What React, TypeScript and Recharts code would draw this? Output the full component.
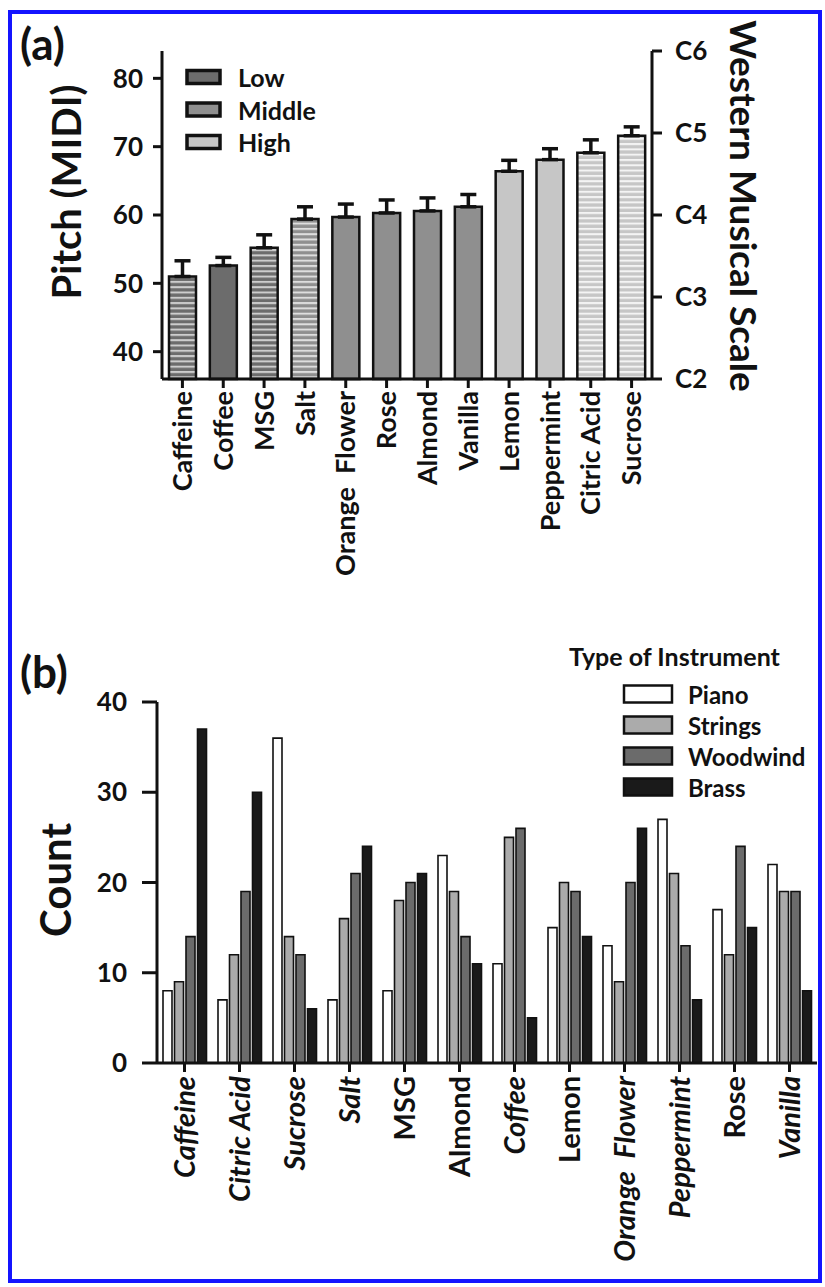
import React from 'react';
import { ComposedChart, BarChart, Bar, Line, XAxis, YAxis, ErrorBar, Cell } from 'recharts';

const FONT = 'Lato, "Open Sans", sans-serif';
const INK = '#111111';

// ---- panel (a): mean pitch per stimulus ----
const stimuliA = ['Caffeine', 'Coffee', 'MSG', 'Salt', 'Orange  Flower', 'Rose', 'Almond', 'Vanilla', 'Lemon', 'Peppermint', 'Citric Acid', 'Sucrose'];
const pitchMean = [51.0, 52.6, 55.2, 59.4, 59.7, 60.3, 60.6, 61.2, 66.4, 68.1, 69.1, 71.6];
const pitchTop = [53.3, 53.8, 57.1, 61.2, 61.6, 62.2, 62.5, 63.0, 68.0, 69.7, 71.0, 72.9];
const pitchGroup = ['Low', 'Low', 'Low', 'Middle', 'Middle', 'Middle', 'Middle', 'Middle', 'High', 'High', 'High', 'High'];
const tasteStimulus = [true, false, true, true, false, false, false, false, false, false, true, true];
const pitchTicks = [40, 50, 60, 70, 80];
const noteTicks = [36, 48, 60, 72, 84];
const noteLabels = ['C2', 'C3', 'C4', 'C5', 'C6'];
const groupNames = ['Low', 'Middle', 'High'];

// ---- panel (b): instrument counts ----
const stimuliB = ['Caffeine', 'Citric Acid', 'Sucrose', 'Salt', 'MSG', 'Almond', 'Coffee', 'Lemon', 'Orange  Flower', 'Peppermint', 'Rose', 'Vanilla'];
const italicB = [true, true, true, true, false, false, true, false, true, true, false, true];
const pianoCounts = [8, 7, 36, 7, 8, 23, 11, 15, 13, 27, 17, 22];
const stringsCounts = [9, 12, 14, 16, 18, 19, 25, 20, 9, 21, 12, 19];
const woodwindCounts = [14, 19, 12, 21, 20, 14, 26, 19, 20, 13, 24, 19];
const brassCounts = [37, 30, 6, 24, 21, 11, 5, 14, 26, 7, 15, 8];
const countTicks = [0, 10, 20, 30, 40];
const instruments = ['Piano', 'Strings', 'Woodwind', 'Brass'];

const groupColor: Record<string, string> = { Low: '#6c6c6c', Middle: '#8f8f8f', High: '#c6c6c6' };
const stripeColor: Record<string, string> = { Low: '#cdcdcd', Middle: '#dedede', High: '#f4f4f4' };
const instrumentColor: Record<string, string> = { Piano: '#ffffff', Strings: '#ababab', Woodwind: '#6b6b6b', Brass: '#1a1a1a' };

const dataA = stimuliA.map((name, i) => ({
  name,
  pitch: pitchMean[i],
  err: [0, +(pitchTop[i] - pitchMean[i]).toFixed(2)],
}));

const dataB = stimuliB.map((name, i) => ({
  name,
  Piano: pianoCounts[i],
  Strings: stringsCounts[i],
  Woodwind: woodwindCounts[i],
  Brass: brassCounts[i],
}));

const RotatedTick = (props: any) => {
  const { x, y, payload, italicFor, size } = props;
  const idx = italicFor ? stimuliB.indexOf(payload.value) : -1;
  const italic = italicFor && idx >= 0 && italicB[idx];
  return (
    <g transform={`translate(${x},${y})`}>
      <text
        transform="rotate(-90)"
        textAnchor="end"
        dy="0.36em"
        fill={INK}
        fontFamily={FONT}
        fontWeight={700}
        fontSize={size}
        fontStyle={italic ? 'italic' : 'normal'}
        style={{ whiteSpace: 'pre' }}
      >
        {payload.value}
      </text>
    </g>
  );
};

const axisLine = { stroke: INK, strokeWidth: 3 };
const tickText = { fill: INK, fontSize: 26, fontWeight: 700, fontFamily: FONT };

const App: React.FC = () => {
  return (
    <div style={{ position: 'absolute', left: 0, top: 0, width: 825, height: 1287, background: '#fff', fontFamily: FONT }}>
      <div style={{ position: 'absolute', left: 8, top: 10, width: 814, height: 1273, border: '4px solid #1414ff', boxSizing: 'border-box' }} />

      {/* panel (a) */}
      <div style={{ position: 'absolute', left: 0, top: 0 }}>
        <ComposedChart width={825} height={620} data={dataA} margin={{ top: 51, right: 0, left: 0, bottom: 0 }}>
          <defs>
            {groupNames.map((g) => (
              <pattern key={g} id={`hatch-${g}`} width="8" height="5.3" patternUnits="userSpaceOnUse">
                <rect width="8" height="5.3" fill={groupColor[g]} />
                <rect width="8" height="2" fill={stripeColor[g]} />
              </pattern>
            ))}
          </defs>
          <XAxis
            dataKey="name"
            height={241}
            interval={0}
            tickSize={9}
            tickMargin={3}
            axisLine={axisLine}
            tickLine={axisLine}
            tick={<RotatedTick size={27} />}
          />
          <YAxis
            yAxisId="left"
            width={162}
            domain={[36, 84]}
            ticks={pitchTicks}
            tickSize={9}
            tickMargin={10}
            axisLine={axisLine}
            tickLine={axisLine}
            tick={tickText}
          />
          <YAxis
            yAxisId="right"
            orientation="right"
            width={173}
            domain={[36, 84]}
            ticks={noteTicks}
            allowDataOverflow
            tickFormatter={(v: number) => noteLabels[noteTicks.indexOf(v)]}
            tickSize={10}
            tickMargin={13}
            axisLine={axisLine}
            tickLine={axisLine}
            tick={tickText}
          />
          <Bar yAxisId="left" dataKey="pitch" barSize={27} stroke={INK} strokeWidth={2.5} isAnimationActive={false}>
            {dataA.map((d, i) => (
              <Cell
                key={d.name}
                fill={tasteStimulus[i] ? `url(#hatch-${pitchGroup[i]})` : groupColor[pitchGroup[i]]}
              />
            ))}
            <ErrorBar dataKey="err" width={8} stroke={INK} strokeWidth={3.5} direction="y" isAnimationActive={false} />
          </Bar>
          {/* the note scale shares the pitch values; an invisible series keeps the right axis alive */}
          <Line yAxisId="right" dataKey="pitch" stroke="none" dot={false} activeDot={false} legendType="none" isAnimationActive={false} />
        </ComposedChart>
      </div>

      {/* panel (b) */}
      <div style={{ position: 'absolute', left: 0, top: 620 }}>
        <BarChart
          width={825}
          height={667}
          data={dataB}
          margin={{ top: 82, right: 8, left: 0, bottom: 0 }}
          barSize={9}
          barGap={2.5}
        >
          <XAxis
            dataKey="name"
            height={224}
            interval={0}
            tickSize={9}
            tickMargin={4}
            axisLine={axisLine}
            tickLine={axisLine}
            tick={<RotatedTick italicFor size={29} />}
          />
          <YAxis
            width={157}
            domain={[0, 40]}
            ticks={countTicks}
            tickSize={15}
            tickMargin={15}
            axisLine={axisLine}
            tickLine={axisLine}
            tick={tickText}
          />
          {instruments.map((k) => (
            <Bar key={k} dataKey={k} fill={instrumentColor[k]} stroke={INK} strokeWidth={1.6} isAnimationActive={false} />
          ))}
        </BarChart>
      </div>

      {/* titles and legends */}
      <svg width={825} height={1287} style={{ position: 'absolute', left: 0, top: 0, pointerEvents: 'none' }} fontFamily={FONT} fontWeight={700} fill={INK}>
        <text x={20} y={60} fontSize={44}>(a)</text>
        <text transform="translate(66,192) rotate(-90)" textAnchor="middle" dominantBaseline="central" fontSize={40}>Pitch (MIDI)</text>
        <text transform="translate(744,206) rotate(90)" textAnchor="middle" dominantBaseline="central" fontSize={37}>Western Musical Scale</text>
        {groupNames.map((g, i) => (
          <g key={g} transform={`translate(0,${77 + i * 32.5})`}>
            <rect x={187} y={-6.5} width={33} height={13} fill={groupColor[g]} stroke={INK} strokeWidth={3.5} />
            <text x={238} y={0} dominantBaseline="central" fontSize={25}>{g}</text>
          </g>
        ))}

        <text x={20} y={688} fontSize={44}>(b)</text>
        <text transform="translate(55,880) rotate(-90)" textAnchor="middle" dominantBaseline="central" fontSize={42}>Count</text>
        <text x={569} y={666} fontSize={25}>Type of Instrument</text>
        {instruments.map((k, i) => (
          <g key={k} transform={`translate(0,${694 + i * 31})`}>
            <rect x={624} y={-8.5} width={48} height={17} fill={instrumentColor[k]} stroke={INK} strokeWidth={2.5} />
            <text x={688} y={0} dominantBaseline="central" fontSize={24}>{k}</text>
          </g>
        ))}
      </svg>
    </div>
  );
};

export default App;
